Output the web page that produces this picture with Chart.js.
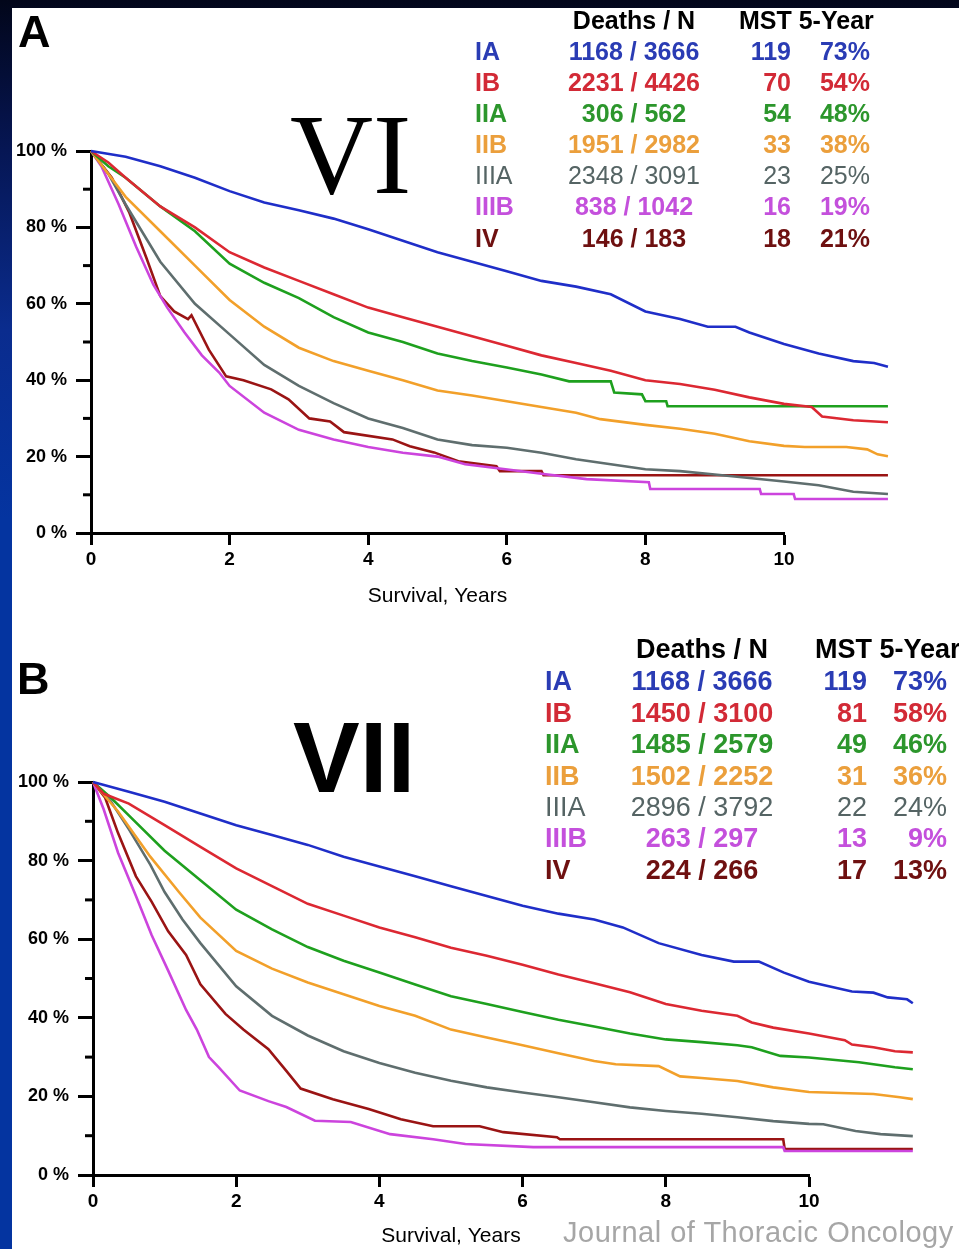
<!DOCTYPE html>
<html>
<head>
<meta charset="utf-8">
<script src="https://cdn.jsdelivr.net/npm/chart.js@4.4.1/dist/chart.umd.min.js"></script>
<style>
  html, body { margin: 0; padding: 0; }
  body {
    width: 959px; height: 1249px; position: relative; overflow: hidden;
    background: linear-gradient(to bottom, #02061a 0px, #061654 150px, #0a2c8e 330px, #0434a0 520px, #0434a0 100%);
    font-family: 'Liberation Sans', Arial, sans-serif;
  }
  #paper { position: absolute; left: 12px; top: 8px; right: 0; bottom: 0; background: #fff; }
  canvas { position: absolute; left: 0; }
  .txt { position: absolute; white-space: nowrap; }
  .panel { font-weight: bold; font-size: 45px; line-height: 45px; color: #000; }
</style>
</head>
<body>
<div id="paper"></div>
<canvas id="chartVI" width="959" height="620" style="top:0px"></canvas>
<canvas id="chartVII" width="959" height="629" style="top:620px"></canvas>

<div class="txt panel" style="left:18px; top:9px;">A</div>
<div class="txt panel" style="left:17px; top:656px;">B</div>
<div class="txt" style="left:290px; top:97px; font-family:'Liberation Serif','Times New Roman',serif; font-size:115px; line-height:115px;">VI</div>
<div class="txt" style="left:293px; top:707px; font-weight:bold; font-size:100px; line-height:100px;">VII</div>
<div class="txt" style="left:563px; top:1218px; font-size:29px; line-height:29px; letter-spacing:0.5px; color:#a6a6a6;">Journal of Thoracic Oncology</div>

<script>
// 分期与颜色
const stages = ['IA', 'IB', 'IIA', 'IIB', 'IIIA', 'IIIB', 'IV'];
const lineColors = ['#1f2ec8', '#dc2832', '#1ea01e', '#f2a02a', '#5f6e6e', '#cc44dd', '#9a1414'];
const textColors = ['#2a3cb4', '#d22a36', '#2c962c', '#eb9f3c', '#556464', '#c450dc', '#6e1010'];

// 第六版 (VI) 表格
const deathsVI = [1168, 2231, 306, 1951, 2348, 838, 146];
const totalVI = [3666, 4426, 562, 2982, 3091, 1042, 183];
const mstVI = [119, 70, 54, 33, 23, 16, 18];
const fiveYearVI = [73, 54, 48, 38, 25, 19, 21];

// 第七版 (VII) 表格
const deathsVII = [1168, 1450, 1485, 1502, 2896, 263, 224];
const totalVII = [3666, 3100, 2579, 2252, 3792, 297, 266];
const mstVII = [119, 81, 49, 31, 22, 13, 17];
const fiveYearVII = [73, 58, 46, 36, 24, 9, 13];

// 坐标轴刻度
const xTicks = [0, 2, 4, 6, 8, 10];
const yTicks = [0, 10, 20, 30, 40, 50, 60, 70, 80, 90, 100];

// 生存曲线 [年, 生存率%]  (VI)
const viIA = [[0,100],[0.5,98.5],[1,96],[1.5,93],[2,89.5],[2.5,86.5],[3,84.5],[3.5,82.3],[4,79.5],[4.5,76.5],[5,73.5],[5.5,71],[6,68.5],[6.5,66],[7,64.5],[7.5,62.5],[8,58],[8.5,56],[8.9,54],[9.3,54],[9.5,52.5],[10,49.5],[10.5,47],[11,45],[11.3,44.5],[11.5,43.5]];
const viIB = [[0,100],[0.25,97],[0.5,93],[1,85.5],[1.5,80],[2,73.5],[2.5,69.5],[3,66],[3.5,62.5],[4,59],[4.5,56.5],[5,54],[5.5,51.5],[6,49],[6.5,46.5],[7,44.5],[7.5,42.5],[8,40],[8.5,39],[9,37.5],[9.5,35.5],[10,33.8],[10.4,33],[10.55,30.5],[11,29.5],[11.5,29]];
const viIIA = [[0,100],[0.25,96],[0.5,93],[1,85.5],[1.5,79],[2,70.5],[2.5,65.5],[3,61.5],[3.5,56.5],[4,52.5],[4.5,50],[5,47],[5.5,45],[6,43.3],[6.5,41.5],[6.9,39.7],[7.5,39.7],[7.55,36.8],[7.95,36.3],[8,34.5],[8.3,34.5],[8.32,33.2],[11.5,33.2]];
const viIIB = [[0,100],[0.25,94],[0.5,88],[1,79],[1.5,70],[2,61],[2.5,54],[3,48.5],[3.5,45],[4,42.5],[4.5,40],[5,37.3],[5.5,36],[6,34.5],[6.5,33],[7,31.5],[7.35,29.8],[8,28.3],[8.5,27.3],[9,26],[9.5,24],[10,22.8],[10.3,22.5],[10.9,22.5],[11.2,21.9],[11.35,20.6],[11.5,20.1]];
const viIIIA = [[0,100],[0.25,94],[0.5,86],[1,71],[1.5,60],[2,52],[2.5,44],[3,38.5],[3.5,34],[4,30],[4.5,27.5],[5,24.5],[5.5,23],[6,22.3],[6.5,21],[7,19.3],[7.5,18],[8,16.7],[8.5,16.2],[9,15.3],[9.5,14.4],[10,13.5],[10.5,12.5],[11,10.8],[11.5,10.2]];
const viIIIB = [[0,100],[0.15,96],[0.4,86],[0.65,75],[0.9,65],[1.1,59],[1.35,52.5],[1.6,46.5],[1.85,42],[2,38.5],[2.5,31.5],[3,27],[3.5,24.5],[4,22.5],[4.5,21],[5,20],[5.4,18],[5.75,17.2],[6.5,15.5],[7.15,14.1],[8.05,13.3],[8.07,11.5],[9.65,11.5],[9.67,10.2],[10.14,10.2],[10.16,8.9],[11.5,8.9]];
const viIV = [[0,100],[0.3,93],[0.55,84],[0.8,72],[1,62],[1.2,58],[1.4,56],[1.45,57],[1.7,48],[1.95,41],[2.2,40],[2.6,37.6],[2.85,35],[3.15,30],[3.45,29.2],[3.65,26.4],[4.35,24.5],[4.6,22.7],[4.95,21.1],[5.3,18.8],[5.85,17.5],[5.9,16.2],[6.5,16.2],[6.53,15.1],[11.5,15.1]];

// 生存曲线 [年, 生存率%]  (VII)
const viiIA = [[0,100],[0.5,97.5],[1,95],[1.5,92],[2,89],[2.5,86.5],[3,84],[3.5,81],[4,78.5],[4.5,76],[5,73.5],[5.5,71],[6,68.5],[6.5,66.5],[7,65],[7.4,63],[7.9,59],[8.5,56],[8.95,54.3],[9.3,54.3],[9.65,51.5],[10,49.2],[10.6,46.7],[10.9,46.4],[11.1,45.2],[11.37,44.7],[11.45,43.7]];
const viiIB = [[0,100],[0.15,97],[0.5,94.5],[1,89],[1.5,83.5],[2,78],[2.5,73.5],[3,69],[3.5,66],[4,63],[4.5,60.5],[5,57.8],[5.5,55.8],[6,53.5],[6.5,51],[7,48.8],[7.5,46.5],[8,43.5],[8.5,41.8],[9,40.5],[9.2,38.8],[9.5,37.5],[10,36],[10.5,34.3],[10.6,33.2],[10.9,32.5],[11.2,31.5],[11.45,31.2]];
const viiIIA = [[0,100],[0.25,96],[0.5,91.5],[1,82.5],[1.5,75],[2,67.5],[2.5,62.5],[3,58],[3.5,54.5],[4,51.5],[4.5,48.5],[5,45.5],[5.5,43.5],[6,41.5],[6.5,39.5],[7,37.8],[7.5,36],[8,34.5],[8.5,33.8],[9,33],[9.2,32.5],[9.6,30.3],[10,29.9],[10.7,28.7],[11.2,27.4],[11.45,26.9]];
const viiIIB = [[0,100],[0.35,92.5],[0.8,81],[1.2,72],[1.5,65.5],[2,57],[2.5,52.5],[3,49],[3.5,46],[4,43],[4.5,40.5],[5,37],[5.5,35],[6,33],[6.5,31],[7,29],[7.3,28.2],[7.9,27.7],[8.2,25.1],[8.5,24.7],[9,23.9],[9.5,22.3],[10,21.1],[10.9,20.6],[11.27,19.8],[11.45,19.3]];
const viiIIIA = [[0,100],[0.25,95],[0.5,88],[0.8,79],[1,72],[1.25,65],[1.5,59],[2,48],[2.5,40.5],[3,35.5],[3.5,31.5],[4,28.5],[4.5,26],[5,24],[5.5,22.3],[6,21],[6.5,19.8],[7,18.5],[7.5,17.2],[8,16.3],[8.5,15.6],[9,14.7],[9.5,13.7],[10,13],[10.2,12.9],[10.65,11.2],[11,10.4],[11.45,9.9]];
const viiIIIB = [[0,100],[0.15,93],[0.35,82],[0.6,71],[0.82,61],[1.05,52],[1.3,42],[1.45,37],[1.62,30],[1.75,27.5],[2.05,21.5],[2.45,18.8],[2.7,17.3],[3.1,13.8],[3.6,13.5],[4.15,10.4],[4.75,9.1],[5.2,7.9],[6.15,7.1],[9.64,7.1],[9.66,6.1],[11.45,6.1]];
const viiIV = [[0,100],[0.17,96],[0.35,87],[0.6,76],[0.82,69.5],[1.05,62],[1.3,56],[1.5,48.5],[1.85,41],[2.1,37],[2.45,32],[2.7,26.5],[2.9,22],[3.35,19.3],[3.85,16.8],[4.3,14.2],[4.75,12.4],[5.4,12.4],[5.73,10.9],[6.48,9.6],[6.52,9.1],[9.64,9.1],[9.66,6.6],[11.45,6.6]];

const curvesVI = [viIA, viIB, viIIA, viIIB, viIIIA, viIIIB, viIV];
const curvesVII = [viiIA, viiIB, viiIIA, viiIIB, viiIIIA, viiIIIB, viiIV];

// 次刻度（短刻度）
const minorTicks = {
    id: 'minorTicks',
    afterDraw(chart) {
        const y = chart.scales.y;
        const ctx = chart.ctx;
        const left = chart.chartArea.left;
        ctx.save();
        ctx.strokeStyle = '#000';
        ctx.lineWidth = 3;
        y.ticks.forEach(t => {
            if (t.value % 20 !== 0) {
                const py = y.getPixelForValue(t.value);
                ctx.beginPath();
                ctx.moveTo(left - 8, py);
                ctx.lineTo(left, py);
                ctx.stroke();
            }
        });
        ctx.restore();
    }
};

// 生存曲线图
function makeChart(id, curves, box) {
    const ctx = document.getElementById(id).getContext('2d');
    return new Chart(ctx, {
        type: 'line',
        data: {
            datasets: curves.map((c, i) => ({
                label: stages[i],
                data: c.map(p => ({ x: p[0], y: p[1] })),
                borderColor: lineColors[i],
                borderWidth: 2.6,
                pointRadius: 0,
                tension: 0,
                fill: false,
                clip: false
            }))
        },
        options: {
            responsive: false,
            animation: false,
            devicePixelRatio: 1,
            layout: { padding: { left: 0, top: box.top, right: box.right, bottom: box.bottom } },
            plugins: { legend: { display: false }, tooltip: { enabled: false } },
            scales: {
                x: {
                    type: 'linear',
                    afterDataLimits: s => { s.min = xTicks[0]; s.max = xTicks[xTicks.length - 1]; },
                    afterFit: s => { s.height = box.xHeight; },
                    afterBuildTicks: s => { s.ticks = xTicks.map(v => ({ value: v })); },
                    ticks: {
                        color: '#000', padding: 3, maxRotation: 0, autoSkip: false,
                        font: { family: "'Liberation Sans', Arial, sans-serif", size: 19, weight: 'bold' }
                    },
                    grid: { drawOnChartArea: false, tickLength: 12, tickWidth: 3, tickColor: '#000' },
                    border: { display: true, color: '#000', width: 3 },
                    title: {
                        display: true, text: 'Survival, Years', color: '#000', padding: 0,
                        font: { family: "'Liberation Sans', Arial, sans-serif", size: 21 }
                    }
                },
                y: {
                    min: 0, max: 100,
                    afterFit: s => { s.width = box.left; },
                    afterBuildTicks: s => { s.ticks = yTicks.map(v => ({ value: v })); },
                    ticks: {
                        color: '#000', padding: 9, autoSkip: false,
                        callback: v => (v % 20 === 0 ? v + ' %' : ''),
                        font: { family: "'Liberation Sans', Arial, sans-serif", size: 18, weight: 'bold' }
                    },
                    grid: {
                        drawOnChartArea: false, tickLength: 15, tickWidth: 3,
                        tickColor: c => (c.tick && c.tick.value % 20 === 0 ? '#000' : 'rgba(0,0,0,0)')
                    },
                    border: { display: true, color: '#000', width: 3 }
                }
            }
        },
        plugins: [minorTicks]
    });
}

makeChart('chartVI', curvesVI, { left: 91, top: 151, right: 175, bottom: 11, xHeight: 76 });
makeChart('chartVII', curvesVII, { left: 93, top: 162, right: 150, bottom: 0, xHeight: 74 });

// 图例表格
function addText(text, css) {
    const d = document.createElement('div');
    d.className = 'txt';
    d.textContent = text;
    Object.assign(d.style, css);
    document.body.appendChild(d);
}

function makeTable(deaths, totals, mst, five, p) {
    const base = { fontSize: p.size + 'px', lineHeight: p.step + 'px', height: p.step + 'px' };
    addText('Deaths / N', Object.assign({}, base, {
        left: (p.countX - 100) + 'px', width: '200px', textAlign: 'center',
        top: (p.headY - p.step / 2) + 'px', fontWeight: 'bold', color: '#000'
    }));
    addText('MST 5-Year', Object.assign({}, base, {
        left: p.headX + 'px', top: (p.headY - p.step / 2) + 'px', fontWeight: 'bold', color: '#000'
    }));
    stages.forEach((s, i) => {
        const top = (p.rowY + i * p.step - p.step / 2) + 'px';
        const row = Object.assign({}, base, {
            top: top, color: textColors[i], fontWeight: s === 'IIIA' ? 'normal' : 'bold'
        });
        addText(s, Object.assign({}, row, { left: p.labelX + 'px' }));
        addText(deaths[i] + ' / ' + totals[i], Object.assign({}, row, {
            left: (p.countX - 100) + 'px', width: '200px', textAlign: 'center'
        }));
        addText(String(mst[i]), Object.assign({}, row, {
            left: (p.mstX - 100) + 'px', width: '100px', textAlign: 'right'
        }));
        addText(five[i] + '%', Object.assign({}, row, {
            left: (p.fiveX - 100) + 'px', width: '100px', textAlign: 'right'
        }));
    });
}

makeTable(deathsVI, totalVI, mstVI, fiveYearVI,
    { size: 25, step: 31.1, headY: 21, rowY: 51.5, labelX: 475, countX: 634, headX: 739, mstX: 791, fiveX: 870 });
makeTable(deathsVII, totalVII, mstVII, fiveYearVII,
    { size: 27, step: 31.4, headY: 650, rowY: 682, labelX: 545, countX: 702, headX: 815, mstX: 867, fiveX: 947 });
</script>
</body>
</html>
